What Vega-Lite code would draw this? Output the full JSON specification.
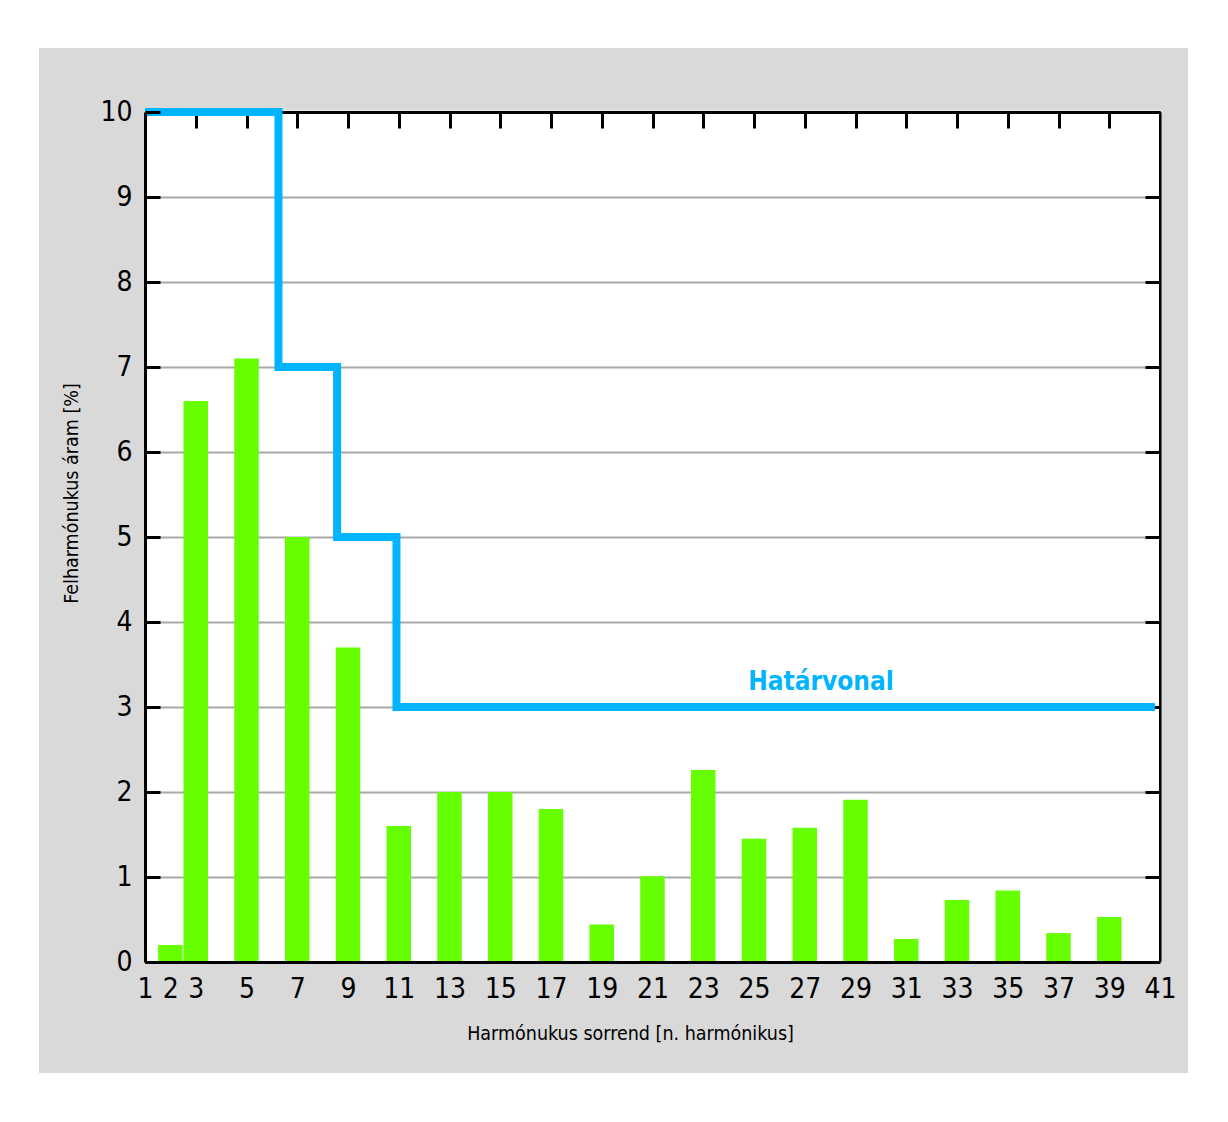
{
  "$schema": "https://vega.github.io/schema/vega-lite/v6.json",
  "width": 1015,
  "height": 850,
  "autosize": {"type": "none"},
  "padding": {"left": 145, "top": 112, "right": 68, "bottom": 160},
  "background": "white",
  "config": {
    "font": "'Liberation Sans Narrow', 'DejaVu Sans Condensed', 'Roboto Condensed', 'Liberation Sans', Roboto, sans-serif",
    "view": {"stroke": null, "fill": "white"}
  },
  "datasets": {
    "harmonics": [
      {"n": 2, "value": 0.2},
      {"n": 3, "value": 6.6},
      {"n": 5, "value": 7.1},
      {"n": 7, "value": 5.0},
      {"n": 9, "value": 3.7},
      {"n": 11, "value": 1.6},
      {"n": 13, "value": 2.0},
      {"n": 15, "value": 2.0},
      {"n": 17, "value": 1.8},
      {"n": 19, "value": 0.44},
      {"n": 21, "value": 1.01},
      {"n": 23, "value": 2.26},
      {"n": 25, "value": 1.45},
      {"n": 27, "value": 1.58},
      {"n": 29, "value": 1.91},
      {"n": 31, "value": 0.27},
      {"n": 33, "value": 0.73},
      {"n": 35, "value": 0.84},
      {"n": 37, "value": 0.34},
      {"n": 39, "value": 0.53}
    ],
    "limit": [
      {"n": 1, "limit": 10},
      {"n": 6.26, "limit": 7},
      {"n": 8.57, "limit": 5},
      {"n": 10.91, "limit": 3},
      {"n": 40.8, "limit": 3}
    ],
    "one": [{"label": "Határvonal"}]
  },
  "layer": [
    {
      "data": {"name": "one"},
      "mark": {"type": "rect", "color": "#D9D9D9"},
      "encoding": {
        "x": {"datum": -3.177, "type": "quantitative", "axis": null, "scale": {"domain": [1, 41], "nice": false, "zero": false, "padding": 0}},
        "x2": {"datum": 1},
        "y": {"datum": -1.306, "type": "quantitative", "axis": null, "scale": {"domain": [0, 10], "nice": false, "zero": false}},
        "y2": {"datum": 10.753}
      }
    },
    {
      "data": {"name": "one"},
      "mark": {"type": "rect", "color": "#D9D9D9"},
      "encoding": {
        "x": {"datum": -3.177, "type": "quantitative", "axis": null, "scale": {"domain": [1, 41], "nice": false, "zero": false, "padding": 0}},
        "x2": {"datum": 42.104},
        "y": {"datum": -1.306, "type": "quantitative", "axis": null, "scale": {"domain": [0, 10], "nice": false, "zero": false}},
        "y2": {"datum": 0}
      }
    },
    {
      "data": {"name": "one"},
      "mark": {"type": "rect", "color": "#D9D9D9"},
      "encoding": {
        "x": {"datum": -3.177, "type": "quantitative", "axis": null, "scale": {"domain": [1, 41], "nice": false, "zero": false, "padding": 0}},
        "x2": {"datum": 42.104},
        "y": {"datum": 10.018, "type": "quantitative", "axis": null, "scale": {"domain": [0, 10], "nice": false, "zero": false}},
        "y2": {"datum": 10.753}
      }
    },
    {
      "data": {"name": "one"},
      "mark": {"type": "rect", "color": "#D9D9D9"},
      "encoding": {
        "x": {"datum": 41.06, "type": "quantitative", "axis": null, "scale": {"domain": [1, 41], "nice": false, "zero": false, "padding": 0}},
        "x2": {"datum": 42.104},
        "y": {"datum": -1.306, "type": "quantitative", "axis": null, "scale": {"domain": [0, 10], "nice": false, "zero": false}},
        "y2": {"datum": 10.753}
      }
    },
    {
      "data": {"name": "harmonics"},
      "mark": {"type": "bar", "color": "#66FF00", "width": 24.5},
      "encoding": {
        "x": {
          "field": "n", "type": "quantitative",
          "scale": {"domain": [1, 41], "nice": false, "zero": false, "padding": 0},
          "axis": {
            "orient": "bottom",
            "values": [1, 2, 3, 5, 7, 9, 11, 13, 15, 17, 19, 21, 23, 25, 27, 29, 31, 33, 35, 37, 39, 41],
            "format": "d",
            "ticks": false,
            "grid": false,
            "domain": true,
            "domainColor": "black",
            "domainWidth": 3,
            "labelFontSize": 28,
            "labelColor": "black",
            "labelPadding": 13,
            "labelFlush": false,
            "labelOverlap": false,
            "title": "Harmónukus sorrend [n. harmónikus]",
            "titleFontSize": 19.5,
            "titleFontWeight": "normal",
            "titleColor": "black",
            "titleX": 485,
            "titleY": 77,
            "titleAlign": "center",
            "titleBaseline": "alphabetic",
            "zindex": 1
          }
        },
        "y": {
          "field": "value", "type": "quantitative",
          "scale": {"domain": [0, 10], "nice": false, "zero": false},
          "axis": {
            "orient": "left",
            "values": [0, 1, 2, 3, 4, 5, 6, 7, 8, 9, 10],
            "format": "d",
            "ticks": true,
            "tickSize": -15,
            "tickWidth": 3,
            "tickColor": "black",
            "grid": false,
            "domain": true,
            "domainColor": "black",
            "domainWidth": 3,
            "labelFontSize": 28,
            "labelColor": "black",
            "labelPadding": 28,
            "labelFlush": false,
            "labelOverlap": false,
            "title": "Felharmónukus áram [%]",
            "titleFontSize": 19.5,
            "titleFontWeight": "normal",
            "titleColor": "black",
            "titleX": -74,
            "titleY": 381,
            "titleAlign": "center",
            "titleBaseline": "middle",
            "zindex": 1
          }
        }
      }
    },
    {
      "data": {"name": "limit"},
      "mark": {"type": "line", "interpolate": "step-after", "color": "#00B4FF", "strokeWidth": 8, "strokeJoin": "miter", "strokeCap": "butt"},
      "encoding": {
        "x": {
          "field": "n", "type": "quantitative",
          "scale": {"domain": [1, 41], "nice": false, "zero": false, "padding": 0},
          "axis": {
            "orient": "top",
            "values": [1, 3, 5, 7, 9, 11, 13, 15, 17, 19, 21, 23, 25, 27, 29, 31, 33, 35, 37, 39, 41],
            "ticks": true,
            "tickSize": -16,
            "tickWidth": 3,
            "tickColor": "black",
            "labels": false,
            "grid": false,
            "domain": true,
            "domainColor": "black",
            "domainWidth": 3,
            "title": null,
            "zindex": 0
          }
        },
        "y": {
          "field": "limit", "type": "quantitative",
          "scale": {"domain": [0, 10], "nice": false, "zero": false},
          "axis": {
            "orient": "right",
            "values": [0, 1, 2, 3, 4, 5, 6, 7, 8, 9, 10],
            "ticks": true,
            "tickSize": -15,
            "tickWidth": 3,
            "tickColor": "black",
            "labels": false,
            "grid": true,
            "gridColor": "#A8A8A8",
            "gridWidth": 2,
            "domain": true,
            "domainColor": "black",
            "domainWidth": 3,
            "title": null,
            "zindex": 0
          }
        }
      }
    },
    {
      "data": {"name": "one"},
      "mark": {"type": "text", "color": "#00B4FF", "fontSize": 26, "fontWeight": "bold", "align": "center", "baseline": "alphabetic"},
      "encoding": {
        "text": {"field": "label", "type": "nominal"},
        "x": {"datum": 27.64, "type": "quantitative", "axis": null, "scale": {"domain": [1, 41], "nice": false, "zero": false, "padding": 0}},
        "y": {"datum": 3.2, "type": "quantitative", "axis": null, "scale": {"domain": [0, 10], "nice": false, "zero": false}}
      }
    }
  ],
  "resolve": {"axis": {"x": "independent", "y": "independent"}}
}
